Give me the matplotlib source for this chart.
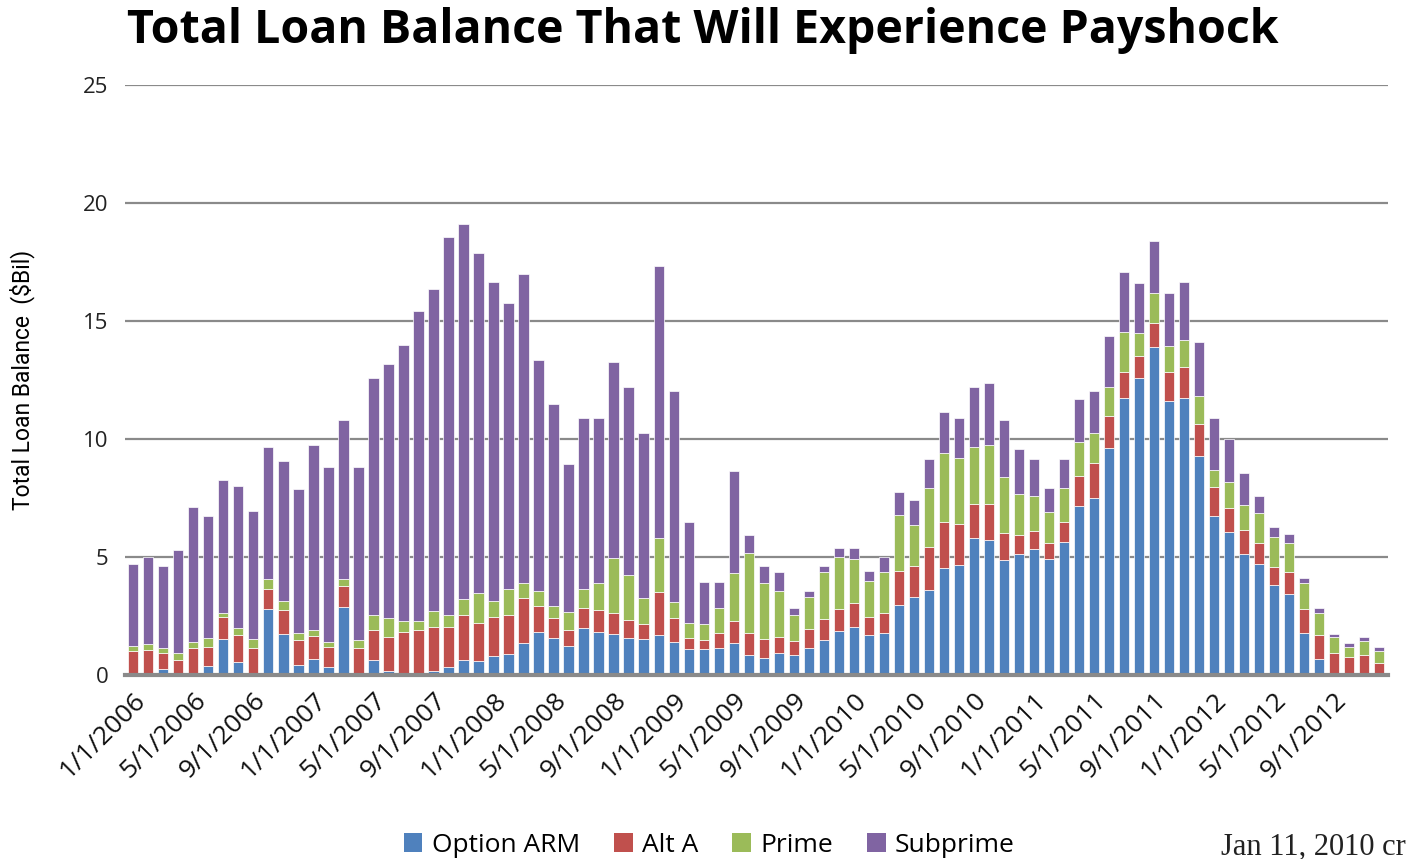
import numpy as np
import matplotlib
matplotlib.use('Agg')
import matplotlib.pyplot as plt
from matplotlib.patches import Patch

# Monthly loan balances resetting, $ billions, Jan 2006 - Dec 2012
months = ['%d/1/%d' % (m, y) for y in range(2006, 2013) for m in range(1, 13)]

option_arm = [0.10, 0.05, 0.25, 0.05, 0.05, 0.38, 1.52, 0.56, 0.05, 2.80, 1.73, 0.42,
              0.68, 0.35, 2.87, 0.05, 0.64, 0.15, 0.10, 0.10, 0.15, 0.35, 0.64, 0.60,
              0.80, 0.89, 1.34, 1.84, 1.55, 1.23, 1.98, 1.84, 1.74, 1.58, 1.51, 1.69,
              1.41, 1.09, 1.09, 1.16, 1.37, 0.85, 0.70, 0.95, 0.85, 1.13, 1.48, 1.88,
              2.02, 1.69, 1.77, 2.97, 3.32, 3.60, 4.52, 4.66, 5.79, 5.72, 4.87, 5.13,
              5.34, 4.92, 5.65, 7.16, 7.49, 9.60, 11.72, 12.57, 13.88, 11.61, 11.72, 9.28,
              6.74, 6.07, 5.13, 4.70, 3.81, 3.43, 1.76, 0.66, 0.05, 0.03, 0.05, 0.03]

alt_a = [0.90, 1.00, 0.68, 0.59, 1.09, 0.82, 0.94, 1.13, 1.09, 0.83, 1.02, 1.06,
         0.97, 0.85, 0.90, 1.08, 1.26, 1.47, 1.74, 1.80, 1.90, 1.70, 1.90, 1.62,
         1.67, 1.65, 1.94, 1.08, 0.85, 0.67, 0.87, 0.91, 0.87, 0.75, 0.64, 1.84,
         0.99, 0.49, 0.39, 0.63, 0.93, 0.92, 0.81, 0.67, 0.60, 0.81, 0.88, 0.92,
         1.02, 0.78, 0.84, 1.45, 1.30, 1.84, 1.98, 1.74, 1.46, 1.53, 1.13, 0.80,
         0.76, 0.69, 0.85, 1.27, 1.48, 1.37, 1.13, 0.95, 1.05, 1.24, 1.32, 1.36,
         1.24, 0.99, 1.01, 0.91, 0.78, 0.95, 1.02, 1.03, 0.87, 0.72, 0.80, 0.47]

prime = [0.23, 0.25, 0.22, 0.31, 0.26, 0.37, 0.18, 0.30, 0.39, 0.43, 0.38, 0.29,
         0.25, 0.21, 0.28, 0.35, 0.64, 0.78, 0.45, 0.39, 0.66, 0.49, 0.66, 1.24,
         0.66, 1.09, 0.60, 0.64, 0.52, 0.78, 0.78, 1.13, 2.33, 1.91, 1.10, 2.26,
         0.71, 0.64, 0.68, 1.03, 2.01, 3.39, 2.37, 1.94, 1.09, 1.38, 2.02, 2.21,
         1.86, 1.51, 1.77, 2.36, 1.74, 2.47, 2.92, 2.78, 2.40, 2.50, 2.40, 1.74,
         1.50, 1.31, 1.41, 1.46, 1.27, 1.25, 1.70, 0.96, 1.24, 1.09, 1.15, 1.18,
         0.71, 1.13, 1.06, 1.27, 1.27, 1.23, 1.10, 0.95, 0.70, 0.45, 0.60, 0.53]

subprime = [3.47, 3.70, 3.45, 4.35, 5.70, 5.18, 5.62, 6.01, 5.42, 5.59, 5.95, 6.10,
            7.85, 7.42, 6.75, 7.35, 10.06, 10.80, 11.71, 13.15, 13.63, 16.03, 15.93, 14.44,
            13.54, 12.12, 13.12, 9.79, 8.56, 6.25, 7.25, 7.00, 8.34, 7.98, 6.99, 11.54,
            8.94, 4.28, 1.79, 1.13, 4.35, 0.77, 0.74, 0.82, 0.28, 0.25, 0.24, 0.36,
            0.47, 0.43, 0.63, 0.96, 1.06, 1.23, 1.71, 1.70, 2.57, 2.64, 2.40, 1.91,
            1.57, 0.99, 1.24, 1.82, 1.81, 2.14, 2.54, 2.12, 2.23, 2.23, 2.48, 2.30,
            2.19, 1.81, 1.37, 0.70, 0.42, 0.35, 0.24, 0.18, 0.12, 0.14, 0.15, 0.14]

series = [('Option ARM', option_arm, '#4f81bd'),
          ('Alt A', alt_a, '#c0504d'),
          ('Prime', prime, '#9bbb59'),
          ('Subprime', subprime, '#8064a2')]

fig = plt.figure(figsize=(14.1, 8.59), dpi=100)
ax = fig.add_axes([0.0887, 0.2142, 0.8957, 0.6868])

x = np.arange(len(months))
bottom = np.zeros(len(months))
for name, vals, col in series:
    ax.bar(x, vals, width=0.68, bottom=bottom, color=col,
           edgecolor='white', linewidth=0.5, zorder=3)
    bottom += np.array(vals)

ax.set_xlim(-0.55, 83.6)
ax.set_ylim(0, 25)
ax.set_yticks(range(0, 26, 5))
ax.yaxis.grid(True, color='#8a8a8a', linewidth=1.6, zorder=0)
ax.set_axisbelow(True)
for s in ['left', 'right', 'top']:
    ax.spines[s].set_visible(False)
ax.spines['bottom'].set_color('#8a8a8a')
ax.spines['bottom'].set_linewidth(3)
ax.spines['bottom'].set_zorder(4)
ax.tick_params(length=0)
ax.tick_params(axis='y', labelsize=16, pad=12, labelcolor='#222222')

ticks = x[::4]
ax.set_xticks(ticks)
ax.set_xticklabels([months[i] for i in ticks], rotation=45, ha='right',
                   rotation_mode='anchor', fontsize=19, color='#111111')
ax.tick_params(axis='x', pad=9)
for lab in ax.get_xticklabels() + ax.get_yticklabels():
    lab.set_family('Open Sans')

ax.set_ylabel('Total Loan Balance  ($Bil)', fontsize=16.5,
              family=['Liberation Sans Narrow', 'Roboto', 'DejaVu Sans'])
ax.yaxis.set_label_coords(-0.071, 0.5)

fig.text(0.09, 0.965, 'Total Loan Balance That Will Experience Payshock',
         fontsize=33.5, fontweight='bold', family='Open Sans', va='center', ha='left')

handles = [Patch(facecolor=c, edgecolor='none', label=n) for n, _, c in series]
leg = fig.legend(handles=handles, loc='center', bbox_to_anchor=(0.503, 0.016), ncol=4,
                 frameon=False, handlelength=0.7, handleheight=0.7,
                 handletextpad=0.35, columnspacing=1.3,
                 prop={'family': 'Open Sans', 'size': 19})

fig.text(0.997, 0.014, 'Jan 11, 2010 cr', fontsize=22, family='Liberation Serif',
         color='#222222', ha='right', va='center')

fig.savefig('out.png', dpi=100)
